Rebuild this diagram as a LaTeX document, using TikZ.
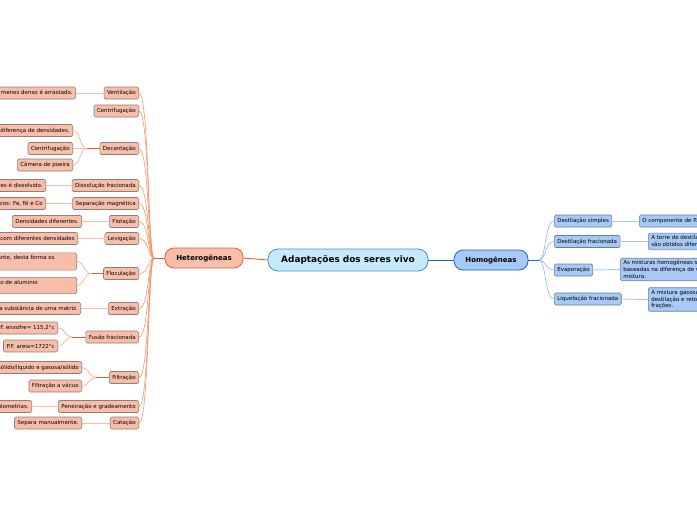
\documentclass[tikz,border=0pt]{standalone}
\usepackage{fontspec}
\setmainfont{DejaVu Sans}
\definecolor{salmon}{HTML}{F9BEAA}
\definecolor{orred}{HTML}{F05A28}
\definecolor{fanor}{HTML}{F7936C}
\definecolor{paleor}{HTML}{F9BCA6}
\definecolor{boxgray}{HTML}{8E7F79}
\definecolor{lblue}{HTML}{A6C9F7}
\definecolor{dblue}{HTML}{1A66D0}
\definecolor{cblue}{HTML}{C7EAFB}
\definecolor{cborder}{HTML}{3D8FD6}
\definecolor{bgray}{HTML}{6E7C90}
\definecolor{fanbl}{HTML}{8DB5EC}
\begin{document}
\begin{tikzpicture}[x=1pt,y=-1pt,
  lbox/.style={draw=boxgray, fill=salmon, rounded corners=1.5pt, line width=0.6pt,
    font=\fontsize{5.5}{6.8}\selectfont, inner xsep=3pt, inner ysep=0pt,
    minimum height=12pt, anchor=east},
  lmulti/.style={lbox, align=left, inner ysep=2.5pt},
  rbox/.style={draw=bgray, fill=lblue, rounded corners=1.5pt, line width=0.6pt,
    font=\fontsize{5.5}{6.8}\selectfont, inner xsep=3pt, inner ysep=0pt,
    minimum height=12pt, anchor=west},
  rmulti/.style={rbox, align=left, inner ysep=2.2pt},
  fan/.style={draw=fanor, line width=0.6pt},
  stub/.style={draw=orred, line width=0.9pt},
  pale/.style={draw=paleor, line width=0.9pt},
  bfan/.style={draw=fanbl, line width=0.6pt},
  bpale/.style={draw=lblue, line width=0.9pt},
  bstub/.style={draw=dblue, line width=0.9pt}]
\useasboundingbox (0,0) rectangle (697,520);
\clip (0,0) rectangle (697,520);

% main nodes
\node[draw=cborder, fill=cblue, rounded corners=10pt, line width=0.8pt,
  minimum width=160pt, minimum height=22pt, inner sep=0pt,
  font=\fontsize{8.9}{10}\selectfont\bfseries] (c) at (348,260) {Adaptações dos seres vivo};
\node[draw=orred, fill=salmon, rounded corners=9pt, line width=0.8pt,
  minimum width=78pt, minimum height=20pt, inner sep=0pt,
  font=\fontsize{7}{8}\selectfont\bfseries] (het) at (204,258) {Heterogêneas};
\node[draw=dblue, fill=lblue, rounded corners=9pt, line width=0.8pt,
  minimum width=74pt, minimum height=20pt, inner sep=0pt,
  font=\fontsize{7}{8}\selectfont\bfseries] (hom) at (491,260) {Homogêneas};

\draw[stub] (het.east) -- (c.west);
\draw[bstub] (c.east) -- (hom.west);

% left level 2
\node[lbox] (ven) at (139,93) {Ventilação};
\node[lbox] (cen) at (139,111) {Centrifugação};
\node[lbox] (dec) at (139,148.5) {Decantação};
\node[lbox] (dis) at (139,185.5) {Dissolução fracionada};
\node[lbox] (sep) at (139,203.5) {Separação magnética};
\node[lbox] (flo) at (139,221.5) {Flotação};
\node[lbox] (lev) at (139,238.5) {Levigação};
\node[lbox] (floc) at (139,273.5) {Floculação};
\node[lbox] (ext) at (139,308.5) {Extração};
\node[lbox] (fus) at (139,337) {Fusão fracionada};
\node[lbox] (fil) at (139,377.5) {Filtração};
\node[lbox] (pen) at (139,406.5) {Peneiração e gradeamento};
\node[lbox] (cat) at (139,423) {Catação};

% left fan
\coordinate (hf) at (154,258);
\draw[stub] (het.west) -- (hf);
\foreach \n in {ven,cen,dec,dis,sep,flo,lev,floc,ext,fus,fil,pen,cat}{
  \draw[fan] (hf) .. controls (148,258) and ([xshift=10pt]\n.east) .. (\n.east);
}

% left level 3
\node[lbox] (ven3) at (76,93) {O componente menos denso é arrastado.};
\node[lbox] (dec1) at (73,130.5) {Separação pela diferença de densidades.};
\node[lbox] (dec2) at (73,148.5) {Centrifugação};
\node[lbox] (dec3) at (73,165) {Câmera de poeira};
\node[lbox] (dis3) at (46,185.5) {Um dos componentes é dissolvido.};
\node[lbox] (sep3) at (46,203.5) {Metais ferromagnéticos: Fe, Ni e Co};
\node[lbox] (flo3) at (82,221.5) {Densidades diferentes.};
\node[lbox] (lev3) at (78,238.5) {Sólidos com diferentes densidades};
\node[lmulti] (floc1) at (77,261.5) {Adiciona-se um agente floculante, desta forma os\hspace*{19pt}\\ sólidos se aglomeram.};
\node[lmulti] (floc2) at (77,285.5) {Usa-se o sulfato básico de alumínio\hspace*{36pt}\\ ou cal.};
\node[lbox] (ext3) at (81,308.5) {Retirada de uma substância de uma matriz.};
\node[lbox] (fus1) at (58,328) {P.F. enxofre= 115,2°c};
\node[lbox] (fus2) at (58,346) {P.F. areia=1722°c};
\node[lbox] (fil1) at (82,367.5) {Sólido/líquido e gasosa/sólido};
\node[lbox] (fil2) at (82,386) {Filtração a vácuo};
\node[lbox] (pen3) at (32,406.5) {Sólidos com diferentes granulometrias.};
\node[lbox] (cat3) at (82,423) {Separa manualmente.};

% left level 2 -> 3
\draw[pale] (ven.west) -- (ven3.east);
\draw[pale] (dis.west) -- (dis3.east);
\draw[pale] (sep.west) -- (sep3.east);
\draw[pale] (flo.west) -- (flo3.east);
\draw[pale] (lev.west) -- (lev3.east);
\draw[pale] (ext.west) -- (ext3.east);
\draw[pale] (pen.west) -- (pen3.east);
\draw[pale] (cat.west) -- (cat3.east);

\coordinate (df) at (87,148.5);
\draw[stub] (dec.west) -- (df);
\foreach \n in {dec1,dec2,dec3}{\draw[pale] (df) .. controls (80,148.5) and ([xshift=7pt]\n.east) .. (\n.east);}
\coordinate (ff) at (91,273.5);
\draw[stub] (floc.west) -- (ff);
\foreach \n in {floc1,floc2}{\draw[pale] (ff) .. controls (84,273.5) and ([xshift=7pt]\n.east) .. (\n.east);}
\coordinate (uf) at (72,337);
\draw[stub] (fus.west) -- (uf);
\foreach \n in {fus1,fus2}{\draw[pale] (uf) .. controls (65,337) and ([xshift=7pt]\n.east) .. (\n.east);}
\coordinate (tf) at (96,377.5);
\draw[stub] (fil.west) -- (tf);
\foreach \n in {fil1,fil2}{\draw[pale] (tf) .. controls (89,377.5) and ([xshift=7pt]\n.east) .. (\n.east);}

% right level 2
\node[rbox] (ds) at (554,221) {Destilação simples};
\node[rbox] (dfr) at (554,241.5) {Destilação fracionada};
\node[rbox] (eva) at (554,270) {Evaporação};
\node[rbox] (lfr) at (554,299) {Liquefação fracionada};

\coordinate (bf) at (539,260);
\draw[bstub] (hom.east) -- (bf);
\foreach \n in {ds,dfr,eva,lfr}{\draw[bfan] (bf) .. controls (546,260) and ([xshift=-9pt]\n.west) .. (\n.west);}

% right level 3
\node[rbox] (ds3) at (639,221) {O componente de P.E. menor é destilado.};
\node[rmulti] (dfr3) at (648,241.5) {A torre de destilação é aquecida e\\ são obtidos diferentes frações.};
\node[rmulti] (eva3) at (620,269.5) {As misturas homogêneas são separadas\\ baseadas na diferença de volatilidade da\\ mistura.};
\node[rmulti] (lfr3) at (648,299.5) {A mistura gasosa é liquefeita, segue a\\ destilação e retorna às\\ frações.};

\draw[bpale] (ds.east) -- (ds3.west);
\draw[bpale] (dfr.east) -- (dfr3.west);
\draw[bpale] (eva.east) -- (eva3.west);
\draw[bpale] (lfr.east) -- (lfr3.west);
\end{tikzpicture}
\end{document}
